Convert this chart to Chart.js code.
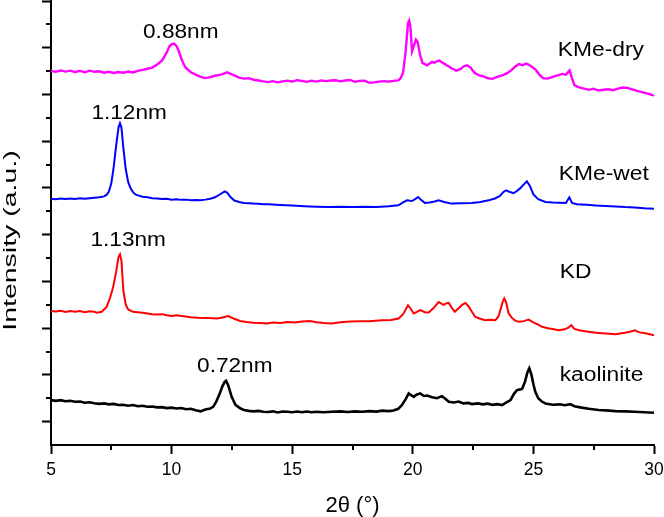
<!DOCTYPE html>
<html lang="en">
<head>
<meta charset="UTF-8">
<title>XRD patterns</title>
<script src="https://cdn.jsdelivr.net/npm/chart.js"></script>
<style>
  html, body { margin: 0; padding: 0; background: #ffffff; }
</style>
</head>
<body>
<canvas id="xrd" width="664" height="517"></canvas>
<script>
// series, offset already included (y in arbitrary stacked units)
const seriesNames = ['KMe-dry', 'KMe-wet', 'KD', 'kaolinite'];
const seriesColors = ['#ff00ff', '#0000ff', '#ff0000', '#000000'];

const dryX = [5.0,5.2,5.4,5.6,5.8,6.0,6.2,6.4,6.6,6.8,7.0,7.2,7.4,7.6,7.8,8.0,8.2,8.4,8.6,8.8,9.0,9.2,9.4,9.6,9.8,9.9,10.0,10.1,10.2,10.3,10.4,10.5,10.6,10.8,11.0,11.2,11.4,11.6,11.8,12.0,12.2,12.3,12.4,12.6,12.8,13.0,13.2,13.4,13.6,13.8,14.0,14.2,14.4,14.6,14.8,15.0,15.2,15.4,15.6,15.8,16.0,16.2,16.4,16.6,16.8,17.0,17.2,17.4,17.6,17.8,18.0,18.2,18.4,18.6,18.8,19.0,19.2,19.4,19.5,19.6,19.7,19.8,19.85,19.9,19.97,20.05,20.13,20.2,20.3,20.4,20.5,20.6,20.7,20.8,20.9,21.0,21.1,21.2,21.3,21.4,21.5,21.6,21.7,21.8,21.9,22.0,22.1,22.25,22.4,22.5,22.6,22.75,22.9,23.1,23.3,23.5,23.7,23.9,24.1,24.25,24.4,24.55,24.7,24.8,24.95,25.1,25.25,25.4,25.6,25.8,26.0,26.2,26.35,26.5,26.6,26.7,26.9,27.1,27.3,27.5,27.7,27.9,28.1,28.3,28.5,28.7,28.9,29.1,29.3,29.5,29.7,29.9,30.0];
const dryY = [16.0,15.97,16.03,15.98,16.02,15.96,16.01,15.95,16.02,15.97,15.99,15.93,15.97,15.92,15.96,15.93,15.98,15.94,16.01,16.05,16.1,16.15,16.28,16.45,16.8,17.05,17.15,17.18,17.08,16.85,16.55,16.3,16.12,15.95,15.85,15.75,15.7,15.74,15.8,15.84,15.9,15.95,15.9,15.82,15.72,15.68,15.7,15.63,15.6,15.56,15.53,15.57,15.52,15.56,15.59,15.55,15.61,15.58,15.54,15.59,15.55,15.6,15.57,15.6,15.61,15.56,15.6,15.62,15.54,15.58,15.59,15.5,15.52,15.55,15.57,15.55,15.58,15.6,15.7,15.95,16.8,18.05,18.16,17.9,16.85,17.1,17.35,17.25,16.7,16.35,16.3,16.25,16.33,16.4,16.36,16.42,16.45,16.38,16.32,16.25,16.2,16.12,16.08,16.02,16.05,16.1,16.2,16.25,16.15,16.0,15.9,15.82,15.78,15.7,15.67,15.75,15.82,15.9,16.05,16.2,16.3,16.25,16.32,16.28,16.18,16.05,15.85,15.7,15.68,15.75,15.82,15.88,15.85,16.03,15.7,15.4,15.3,15.25,15.2,15.25,15.17,15.2,15.22,15.18,15.25,15.3,15.28,15.22,15.15,15.1,15.05,14.98,14.96];

const wetX = [5.0,5.2,5.4,5.6,5.8,6.0,6.2,6.4,6.6,6.8,7.0,7.2,7.3,7.4,7.5,7.6,7.7,7.8,7.86,7.92,8.0,8.1,8.2,8.3,8.4,8.5,8.6,8.8,9.0,9.2,9.4,9.6,9.8,10.0,10.2,10.4,10.6,10.8,11.0,11.2,11.4,11.6,11.8,12.0,12.2,12.3,12.45,12.6,12.8,13.0,13.2,13.4,13.6,13.8,14.0,14.5,15.0,15.5,16.0,16.5,17.0,17.5,18.0,18.5,19.0,19.4,19.6,19.76,19.96,20.1,20.22,20.35,20.5,20.7,20.9,21.07,21.3,21.6,22.0,22.45,22.8,23.15,23.4,23.6,23.75,23.86,24.0,24.18,24.3,24.45,24.6,24.73,24.85,25.0,25.2,25.5,25.8,26.1,26.35,26.49,26.6,26.8,27.2,27.6,28.0,28.4,28.8,29.2,29.6,30.0];
const wetY = [10.54,10.52,10.55,10.53,10.55,10.53,10.56,10.54,10.56,10.58,10.6,10.64,10.7,10.85,11.2,11.9,12.8,13.6,13.77,13.6,12.7,11.8,11.25,10.98,10.82,10.72,10.68,10.62,10.6,10.56,10.55,10.53,10.54,10.5,10.52,10.49,10.5,10.47,10.48,10.47,10.5,10.54,10.6,10.72,10.85,10.8,10.6,10.46,10.4,10.36,10.35,10.33,10.32,10.3,10.3,10.27,10.25,10.22,10.2,10.18,10.2,10.18,10.2,10.19,10.22,10.26,10.38,10.47,10.44,10.52,10.61,10.48,10.36,10.38,10.42,10.47,10.4,10.33,10.34,10.36,10.4,10.47,10.55,10.65,10.82,10.9,10.84,10.78,10.86,10.98,11.15,11.28,11.1,10.72,10.52,10.4,10.38,10.37,10.36,10.6,10.36,10.3,10.28,10.25,10.23,10.21,10.18,10.16,10.13,10.11];

const kdX = [5.0,5.2,5.4,5.6,5.8,6.0,6.2,6.4,6.6,6.8,6.9,7.1,7.3,7.45,7.58,7.7,7.8,7.86,7.92,8.0,8.1,8.2,8.4,8.6,8.8,9.0,9.2,9.4,9.6,9.8,10.0,10.2,10.5,10.8,11.1,11.4,11.7,11.9,12.1,12.35,12.6,12.84,13.1,13.4,13.7,13.94,14.2,14.5,14.8,15.1,15.4,15.74,16.0,16.3,16.64,17.0,17.4,17.8,18.2,18.72,19.1,19.41,19.6,19.8,19.92,20.04,20.17,20.31,20.5,20.66,20.85,21.07,21.2,21.28,21.4,21.49,21.6,21.74,21.9,22.05,22.18,22.3,22.45,22.59,22.8,23.0,23.2,23.42,23.55,23.63,23.72,23.79,23.87,23.97,24.1,24.25,24.39,24.6,24.8,25.0,25.2,25.36,25.6,25.8,26.05,26.3,26.45,26.57,26.7,26.9,27.2,27.6,28.0,28.4,28.8,29.0,29.2,29.4,29.7,30.0];
const kdY = [5.74,5.71,5.74,5.69,5.73,5.7,5.73,5.68,5.72,5.7,5.66,5.7,5.9,6.3,6.77,7.4,8.05,8.16,7.9,6.6,6.0,5.8,5.7,5.68,5.66,5.63,5.6,5.58,5.6,5.55,5.52,5.55,5.51,5.47,5.45,5.44,5.42,5.41,5.46,5.52,5.4,5.31,5.26,5.23,5.22,5.2,5.24,5.22,5.26,5.24,5.28,5.31,5.25,5.22,5.2,5.25,5.28,5.3,5.3,5.34,5.35,5.41,5.6,5.98,5.82,5.63,5.7,5.77,5.68,5.67,5.85,6.12,6.04,6.0,6.07,6.08,5.9,5.7,5.85,6.0,6.08,5.95,5.7,5.48,5.4,5.34,5.36,5.34,5.5,5.77,6.1,6.27,6.1,5.63,5.45,5.32,5.27,5.3,5.37,5.25,5.15,5.06,5.0,4.96,4.91,4.95,5.02,5.13,4.97,4.91,4.86,4.8,4.77,4.74,4.8,4.85,4.91,4.82,4.77,4.7];

const kaoX = [5.0,5.2,5.4,5.6,5.8,6.0,6.2,6.4,6.6,6.8,7.0,7.2,7.4,7.6,7.8,8.0,8.2,8.4,8.6,8.8,9.0,9.2,9.4,9.6,9.8,10.0,10.2,10.4,10.6,10.8,11.0,11.2,11.4,11.6,11.73,11.85,12.0,12.1,12.2,12.26,12.35,12.49,12.65,12.84,13.0,13.2,13.4,13.6,13.8,14.0,14.2,14.4,14.6,14.8,15.0,15.2,15.4,15.6,15.8,16.0,16.3,16.64,17.0,17.3,17.6,17.9,18.2,18.5,18.72,19.0,19.2,19.4,19.55,19.7,19.83,19.95,20.04,20.15,20.31,20.45,20.6,20.8,21.0,21.21,21.35,21.49,21.7,21.9,22.1,22.3,22.45,22.7,22.9,23.1,23.3,23.5,23.7,23.85,24.05,24.2,24.32,24.45,24.53,24.65,24.75,24.83,24.92,25.0,25.08,25.2,25.35,25.5,25.8,26.1,26.3,26.53,26.7,27.0,27.3,27.7,28.0,28.4,28.8,29.2,29.6,30.0];
const kaoY = [1.92,1.89,1.92,1.87,1.89,1.85,1.86,1.81,1.83,1.79,1.76,1.78,1.74,1.76,1.71,1.72,1.68,1.71,1.66,1.68,1.64,1.65,1.61,1.62,1.58,1.6,1.56,1.58,1.53,1.55,1.49,1.44,1.52,1.56,1.64,1.85,2.21,2.5,2.7,2.75,2.55,2.06,1.72,1.57,1.5,1.46,1.44,1.46,1.42,1.41,1.44,1.39,1.43,1.42,1.4,1.43,1.4,1.43,1.4,1.42,1.4,1.42,1.44,1.41,1.44,1.42,1.45,1.43,1.47,1.45,1.48,1.55,1.71,1.95,2.21,2.12,2.06,2.15,2.21,2.1,2.12,2.04,2.0,2.09,1.98,1.85,1.82,1.86,1.78,1.8,1.75,1.78,1.74,1.77,1.72,1.75,1.71,1.8,1.92,2.2,2.35,2.38,2.4,2.7,3.1,3.28,3.0,2.6,2.28,2.0,1.86,1.78,1.72,1.74,1.7,1.75,1.66,1.6,1.55,1.5,1.48,1.45,1.44,1.42,1.4,1.38];

// axis ticks
const xMajorTicks = [5, 10, 15, 20, 25, 30];
const xMinorTicks = [7.5, 12.5, 17.5, 22.5, 27.5];
const yMajorTicks = [1, 3, 5, 7, 9, 11, 13, 15, 17, 19];
const yMinorTicks = [2, 4, 6, 8, 10, 12, 14, 16, 18];

// d-spacing labels and where they sit (data units)
const peakLabels = ['0.88nm', '1.12nm', '1.13nm', '0.72nm'];
const peakLabelX = [10.38, 8.24, 8.2, 12.62];
const peakLabelY = [17.64, 14.19, 8.75, 3.36];
const nameLabelX = [26.01, 26.05, 26.09, 26.09];
const nameLabelY = [16.89, 11.59, 7.39, 2.98];

const FONT = '"Liberation Sans", Arial, sans-serif';

const allX = [dryX, wetX, kdX, kaoX];
const allY = [dryY, wetY, kdY, kaoY];
const lineWidths = [2.4, 2, 2, 2.6];
const datasets = seriesNames.map((name, i) => ({
    label: name,
    data: allX[i].map((x, k) => ({ x: x, y: allY[i][k] })),
    borderColor: seriesColors[i],
    borderWidth: lineWidths[i],
    pointRadius: 0,
    tension: 0,
    fill: false
}));

// minor ticks + text labels
const decorations = {
    id: 'decorations',
    afterDraw(chart) {
        const ctx = chart.ctx;
        const x = chart.scales.x;
        const y = chart.scales.y;
        ctx.save();
        ctx.strokeStyle = '#000';
        ctx.lineWidth = 2;
        ctx.beginPath();
        xMinorTicks.forEach(v => {
            const px = Math.round(x.getPixelForValue(v));
            ctx.moveTo(px, x.top);
            ctx.lineTo(px, x.top + 5);
        });
        yMinorTicks.forEach(v => {
            const py = Math.round(y.getPixelForValue(v));
            ctx.moveTo(y.right, py);
            ctx.lineTo(y.right - 5, py);
        });
        ctx.stroke();

        ctx.fillStyle = '#000';
        ctx.font = '19.5px ' + FONT;
        ctx.textBaseline = 'middle';
        // text in the figure is a little wide, stretch it
        peakLabels.forEach((t, i) => {
            ctx.save();
            ctx.translate(x.getPixelForValue(peakLabelX[i]), y.getPixelForValue(peakLabelY[i]));
            ctx.scale(1.16, 1);
            ctx.textAlign = 'center';
            ctx.fillText(t, 0, 0);
            ctx.restore();
        });
        seriesNames.forEach((t, i) => {
            ctx.save();
            ctx.translate(x.getPixelForValue(nameLabelX[i]), y.getPixelForValue(nameLabelY[i]));
            ctx.scale(1.17, 1);
            ctx.textAlign = 'left';
            ctx.fillText(t, 0, 0);
            ctx.restore();
        });

        // y title
        ctx.font = '19px ' + FONT;
        ctx.save();
        ctx.translate(10.5, 240.5);
        ctx.rotate(-Math.PI / 2);
        ctx.scale(1.5, 1);
        ctx.textAlign = 'center';
        ctx.fillText('Intensity (a.u.)', 0, 0);
        ctx.restore();
        ctx.restore();
    }
};

new Chart(document.getElementById('xrd'), {
    type: 'line',
    data: { datasets: datasets },
    options: {
        responsive: false,
        animation: false,
        layout: { padding: { top: 1, right: 10, left: 0, bottom: 0 } },
        plugins: {
            legend: { display: false },
            tooltip: { enabled: false }
        },
        scales: {
            x: {
                type: 'linear',
                min: 5,
                max: 30,
                afterBuildTicks: s => { s.ticks = xMajorTicks.map(v => ({ value: v })); },
                afterFit: s => { s.height = 72; s.paddingLeft = 0; s.paddingRight = 0; },
                grid: { drawOnChartArea: false, drawTicks: true, tickLength: 9, tickWidth: 2, tickColor: '#000' },
                border: { display: true, color: '#000', width: 2 },
                ticks: { color: '#000', font: { family: FONT, size: 17.5 }, padding: 6, maxRotation: 0 },
                title: {
                    display: true,
                    text: '2θ (°)',
                    color: '#000',
                    font: { family: FONT, size: 22, lineHeight: 1 },
                    padding: { top: 0, bottom: 0 }
                }
            },
            y: {
                type: 'linear',
                min: 0,
                max: 19,
                afterBuildTicks: s => { s.ticks = yMajorTicks.map(v => ({ value: v })); },
                afterFit: s => { s.width = 51; },
                grid: { drawOnChartArea: false, drawTicks: true, tickLength: 9, tickWidth: 2, tickColor: '#000' },
                border: { display: true, color: '#000', width: 2 },
                ticks: { display: false },
                title: { display: false }
            }
        }
    },
    plugins: [decorations]
});
</script>
</body>
</html>
